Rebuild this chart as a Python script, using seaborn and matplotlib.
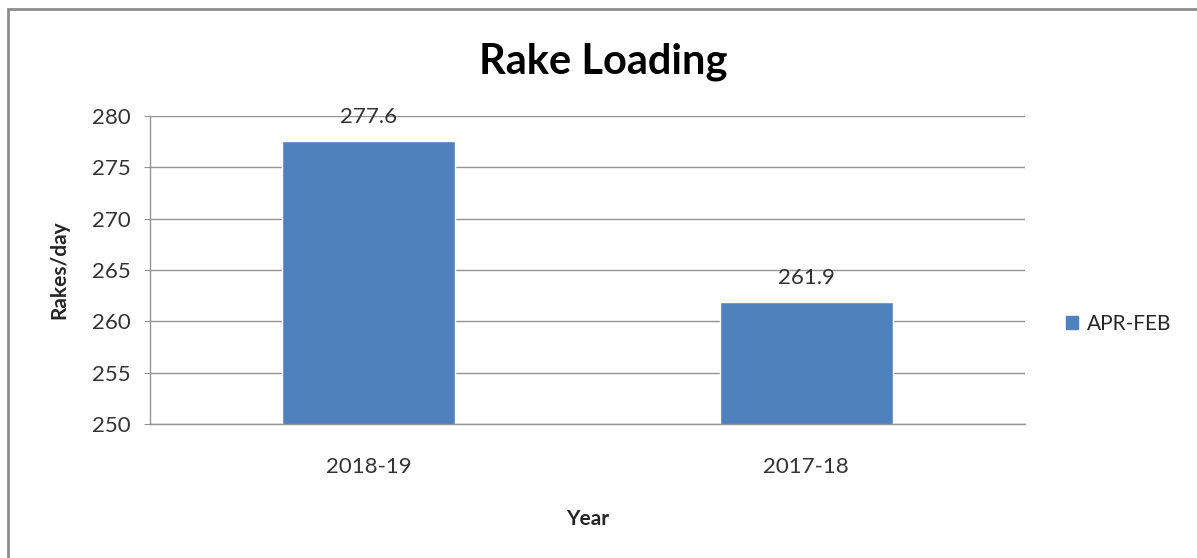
import matplotlib
matplotlib.use("Agg")
import matplotlib.pyplot as plt
import pandas as pd
import seaborn as sns
from matplotlib.patches import Rectangle

years = ["2018-19", "2017-18"]
rakes = [277.6, 261.9]
series = "APR-FEB"

df = pd.DataFrame({"Year": years, "Rakes/day": rakes, "Period": [series] * len(years)})

sns.set_style("white")
plt.rcParams['font.family'] = ['Lato', 'DejaVu Sans']

fig = plt.figure(figsize=(11.97, 5.58), dpi=100)
ax = fig.add_axes([150 / 1197, 1 - 424 / 558, 875 / 1197, 308 / 558])

sns.barplot(data=df, x="Year", y="Rakes/day", hue="Period", palette=["#4F81BD"],
            width=0.395, saturation=1, ax=ax, legend=False)

ax.set_ylim(250, 280)
ax.set_yticks(range(250, 281, 5))
ax.set_xlim(-0.5, 1.5)
ax.yaxis.grid(True, color="#959595", linewidth=1)
ax.set_axisbelow(True)
for s in ["top", "right"]:
    ax.spines[s].set_visible(False)
for s in ["left", "bottom"]:
    ax.spines[s].set_color("#959595")
    ax.spines[s].set_linewidth(1)

# category boundary ticks on x, outward ticks on y
ax.set_xticks([0, 1])
ax.set_xticks([-0.5, 0.5, 1.5], minor=True)
ax.tick_params(axis="x", which="major", length=0, labelsize=16, pad=24, colors="#333333")
ax.tick_params(axis="x", which="minor", length=4, color="#959595", direction="out")
ax.tick_params(axis="y", length=4, color="#959595", direction="out", labelsize=16,
               pad=10, left=True, colors="#333333")

for p, v in zip(ax.patches, rakes):
    ax.annotate(f"{v}", (p.get_x() + p.get_width() / 2, v), xytext=(0, 10),
                textcoords="offset points", ha="center", va="bottom", fontsize=16, color="#333333")

ax.set_xlabel("Year", fontsize=15, fontweight="bold", labelpad=23)
ax.set_ylabel("Rakes/day", fontsize=15, fontweight="bold", labelpad=16)

fig.text(603 / 1197, 1 - 62 / 558, "Rake Loading", ha="center", va="center",
         fontsize=30, fontweight="bold", color="black")

fig.legend(handles=[Rectangle((0, 0), 1, 1, color="#4F81BD")], labels=[series],
           loc="center left", bbox_to_anchor=(1047 / 1197, 1 - 324 / 558), frameon=False,
           fontsize=15, handlelength=0.6, handleheight=0.6, handletextpad=0.4)

# outer chart border
fig.patches.append(Rectangle((8 / 1197, -0.1), 1.2, 1 - 9 / 558 + 0.1, transform=fig.transFigure,
                             fill=False, edgecolor="#8c8c8c", linewidth=2))

fig.savefig("out.png", dpi=100)
